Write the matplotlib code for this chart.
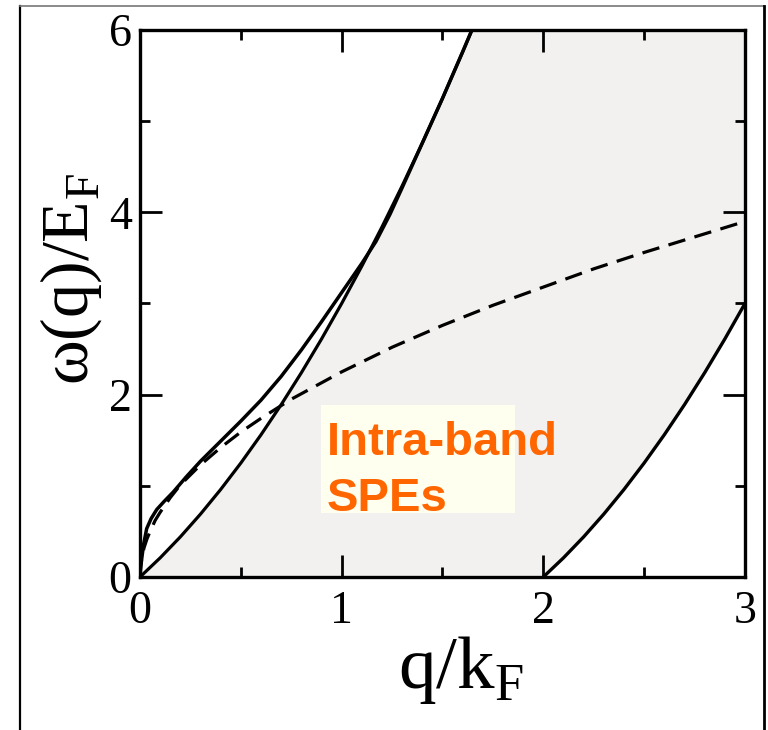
import numpy as np
import matplotlib.pyplot as plt
from matplotlib.lines import Line2D
from matplotlib.patches import Rectangle
from matplotlib.ticker import MultipleLocator

# particle-hole continuum edges
q_up = [0.0, 0.1, 0.2, 0.3, 0.4, 0.5, 0.6, 0.7, 0.8, 0.9, 1.0,
        1.1, 1.2, 1.3, 1.4, 1.5, 1.6, 1.646]
w_up = [0.0, 0.21, 0.44, 0.69, 0.96, 1.25, 1.56, 1.89, 2.24, 2.61, 3.0,
        3.41, 3.84, 4.29, 4.76, 5.25, 5.76, 6.0]
q_lo = [2.0, 2.1, 2.2, 2.3, 2.4, 2.5, 2.6, 2.7, 2.8, 2.9, 3.0]
w_lo = [0.0, 0.21, 0.44, 0.69, 0.96, 1.25, 1.56, 1.89, 2.24, 2.61, 3.0]

# plasmon branch (solid)
q_pl = [0.0, 0.003, 0.008, 0.018, 0.033, 0.055, 0.083, 0.12, 0.164, 0.23,
        0.3, 0.4, 0.5, 0.6, 0.7, 0.8, 0.9, 1.0, 1.1, 1.17,
        1.24, 1.3, 1.4, 1.5, 1.6, 1.646]
w_pl = [0.0, 0.09, 0.19, 0.36, 0.53, 0.64, 0.74, 0.83, 0.93, 1.10,
        1.27, 1.49, 1.71, 1.94, 2.20, 2.49, 2.80, 3.12, 3.44, 3.68,
        3.98, 4.27, 4.76, 5.25, 5.76, 6.0]

# long-wavelength approximation (dashed)
q_lw = [0.0, 0.003, 0.01, 0.02, 0.035, 0.05, 0.075, 0.1, 0.15, 0.2, 0.3,
        0.4, 0.5, 0.6, 0.75, 0.9, 1.0, 1.25, 1.5, 1.75, 2.0, 2.25, 2.5,
        2.75, 3.0]
w_lw = [0.0, 0.12, 0.22, 0.32, 0.42, 0.50, 0.62, 0.71, 0.87, 1.01, 1.23,
        1.42, 1.59, 1.74, 1.95, 2.13, 2.25, 2.52, 2.76, 2.98, 3.18, 3.38,
        3.56, 3.73, 3.90]

x_ticks = [0, 1, 2, 3]
y_ticks = [0, 2, 4, 6]

plt.rcParams['font.family'] = 'Liberation Serif'
plt.rcParams['mathtext.fontset'] = 'custom'
plt.rcParams['mathtext.rm'] = 'Liberation Serif'

fig = plt.figure(figsize=(7.68, 7.30), dpi=100, facecolor='white')
ax = fig.add_axes([0.1823, 0.2096, 0.7877, 0.7493])

# shaded intra-band region
poly_q = q_up + [3.0] + q_lo[::-1]
poly_w = w_up + [6.0] + w_lo[::-1]
ax.fill(poly_q, poly_w, color='#f2f1ef', lw=0, zorder=1)

ax.plot(q_up, w_up, '-', color='black', lw=2.3, zorder=3)
ax.plot(q_lo, w_lo, '-', color='black', lw=2.4, zorder=3)
ax.plot(q_pl, w_pl, '-', color='black', lw=2.5, zorder=3)
ax.plot(q_lw, w_lw, '--', color='black', lw=2.3, dashes=(5.5, 3), zorder=3)

# label on its pale box
ax.add_patch(Rectangle((0.897, 0.70), 0.962, 1.186, fc='#fffff0', ec='none',
                       zorder=2))
ax.text(0.927, 1.338, 'Intra-band', color='#ff6600', fontsize=34,
        fontweight='bold', family='Liberation Sans', ha='left',
        va='baseline', zorder=4)
ax.text(0.927, 0.72, 'SPEs', color='#ff6600', fontsize=34,
        fontweight='bold', family='Liberation Sans', ha='left',
        va='baseline', zorder=4)

ax.set_xlim(0, 3)
ax.set_ylim(0, 6)
ax.set_xticks(x_ticks)
ax.set_yticks(y_ticks)
ax.xaxis.set_minor_locator(MultipleLocator(0.5))
ax.yaxis.set_minor_locator(MultipleLocator(1))

ax.tick_params(which='both', direction='in', top=True, right=True,
               width=2, labelsize=33)
ax.tick_params(which='major', length=16)
ax.tick_params(which='minor', length=7.5)
ax.tick_params(axis='x', pad=10)
ax.tick_params(axis='y', pad=6)

for s in ax.spines.values():
    s.set_linewidth(2.4)

ax.set_xlabel('q/k$_{\\rm F}$', fontsize=54)
ax.xaxis.set_label_coords(0.53, -0.105, transform=ax.transAxes)
ax.xaxis.label.set_va('top')
ax.set_ylabel('\u03c9(q)/E$_{\\rm F}$', fontsize=49)
ax.yaxis.set_label_coords(-0.06, 0.545, transform=ax.transAxes)

# outer frame of the slide
fig.add_artist(Line2D([0.026, 0.026], [0.0, 0.992], color='black', lw=1.6,
                      transform=fig.transFigure))
fig.add_artist(Line2D([0.026, 0.995], [0.992, 0.992], color='#777777', lw=1.2,
                      transform=fig.transFigure))
fig.add_artist(Line2D([0.995, 0.995], [0.0, 0.992], color='black', lw=2.0,
                      transform=fig.transFigure))

plt.savefig('out.png', dpi=100, facecolor='white')
